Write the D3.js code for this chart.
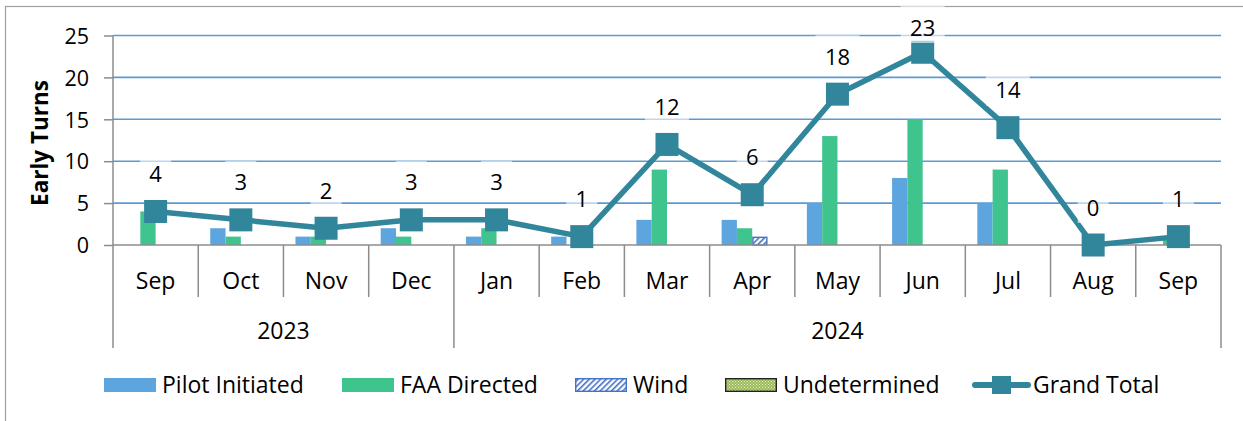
<!DOCTYPE html>
<html><head><meta charset="utf-8">
<script src="https://cdn.jsdelivr.net/npm/d3@7"></script>
<style>html,body{margin:0;padding:0;background:#fff;}svg{display:block;}</style>
</head><body>
<svg id="chart" width="1243" height="421"></svg>
<script>
const months = ["Sep","Oct","Nov","Dec","Jan","Feb","Mar","Apr","May","Jun","Jul","Aug","Sep"];
const yearLabels = ["2023","2024"];
const yearCounts = [4, 9];
const seriesNames = ["Pilot Initiated","FAA Directed","Wind","Undetermined"];
const pilotInitiated = [0,2,1,2,1,1,3,3,5,8,5,0,0];
const faaDirected    = [4,1,1,1,2,0,9,2,13,15,9,0,1];
const wind           = [0,0,0,0,0,0,0,1,0,0,0,0,0];
const undetermined   = [0,0,0,0,0,0,0,0,0,0,0,0,0];
const grandTotal     = [4,3,2,3,3,1,12,6,18,23,14,0,1];
const yTicks = [0,5,10,15,20,25];
const yTitle = "Early Turns";
const totalName = "Grand Total";

(function(){
const FONT = "'Open Sans', sans-serif";
const svg = d3.select("#chart");
const defs = svg.append("defs");

const pw = defs.append("pattern").attr("id","windPat").attr("patternUnits","userSpaceOnUse")
  .attr("width",4).attr("height",4).attr("patternTransform","rotate(45)");
pw.append("rect").attr("width",4).attr("height",4).attr("fill","#fff");
pw.append("rect").attr("width",1.6).attr("height",4).attr("fill","#4472C4");
const pu = defs.append("pattern").attr("id","undPat").attr("patternUnits","userSpaceOnUse")
  .attr("width",3).attr("height",3);
pu.append("rect").attr("width",3).attr("height",3).attr("fill","#9BBB59");
pu.append("rect").attr("width",1).attr("height",1).attr("fill","#e6efd2");
pu.append("rect").attr("x",1.5).attr("y",1.5).attr("width",1).attr("height",1).attr("fill","#e6efd2");

const colors = ["#5DA5DE","#40C48E","url(#windPat)","url(#undPat)"];
const strokes = ["none","none","#4472C4","#222"];
const lineColor = "#31869C";

svg.append("rect").attr("x",5.5).attr("y",6.5).attr("width",1300).attr("height",500)
  .attr("fill","none").attr("stroke","#a0a0a0").attr("stroke-width",1.2);

const pL = 113, pR = 1221, pT = 35.5, pB = 245;
const x = d3.scaleBand().domain(d3.range(months.length)).range([pL,pR]).padding(0);
const y = d3.scaleLinear().domain([0,25]).range([pB, pT]);
const xs = d3.scaleBand().domain(seriesNames).range([0, x.bandwidth()]).paddingInner(0).paddingOuter(0.785);

svg.append("g").selectAll("line").data(yTicks.filter(d=>d>0)).join("line")
  .attr("x1",pL).attr("x2",pR).attr("y1",d=>y(d)).attr("y2",d=>y(d))
  .attr("stroke","#5B9BD5").attr("stroke-width",1.6);

const seriesData = [pilotInitiated, faaDirected, wind, undetermined];
seriesData.forEach((arr, si) => {
  const h = si>=2 ? 0.7 : 0;
  svg.append("g").selectAll("rect").data(arr.map((v,i)=>({v,i})).filter(d=>d.v>0)).join("rect")
    .attr("x", d => x(d.i) + xs(seriesNames[si]) + h)
    .attr("width", xs.bandwidth() - 2*h)
    .attr("y", d => y(d.v) + h)
    .attr("height", d => y(0) - y(d.v) - h)
    .attr("fill", colors[si])
    .attr("stroke", strokes[si]).attr("stroke-width", 2*h);
});

const yAxis = d3.axisLeft(y).tickValues(yTicks).tickSize(9).tickPadding(15);
const gy = svg.append("g").attr("transform",`translate(${pL},0)`).call(yAxis);
gy.select(".domain").attr("stroke","#8c8c8c").attr("stroke-width",1.5).attr("d",`M0,${pT}V${pB}`);
gy.selectAll(".tick line").attr("stroke","#8c8c8c").attr("stroke-width",1.5);
gy.selectAll(".tick text").attr("font-family",FONT).attr("font-size",21.5).attr("fill","#000").attr("dy","0.36em");

svg.append("line").attr("x1",pL).attr("x2",pR).attr("y1",pB).attr("y2",pB)
  .attr("stroke","#8c8c8c").attr("stroke-width",1.5);
const bounds = d3.range(months.length+1);
const yearBounds = [0]; yearCounts.reduce((a,c)=>{yearBounds.push(a+c); return a+c;},0);
svg.append("g").selectAll("line").data(bounds).join("line")
  .attr("x1",d=>pL + d*x.step()).attr("x2",d=>pL + d*x.step())
  .attr("y1",pB).attr("y2",d=> yearBounds.includes(d) ? 348 : 297)
  .attr("stroke","#8c8c8c").attr("stroke-width",1.5);
svg.append("g").selectAll("text").data(months).join("text")
  .attr("x",(d,i)=>x(i)+x.bandwidth()/2).attr("y",288.5)
  .attr("text-anchor","middle").attr("font-family",FONT).attr("font-size",23).text(d=>d);
svg.append("g").selectAll("text").data(yearLabels).join("text")
  .attr("x",(d,i)=> pL + (yearBounds[i]+yearBounds[i+1])/2*x.step()).attr("y",339)
  .attr("text-anchor","middle").attr("font-family",FONT).attr("font-size",23).text(d=>d);

svg.append("text").attr("transform","translate(48,143) rotate(-90)")
  .attr("text-anchor","middle").attr("font-family",FONT).attr("font-weight","bold")
  .attr("font-size",22.5).text(yTitle);

const cx = i => x(i) + x.bandwidth()/2;
svg.append("path").datum(grandTotal)
  .attr("d", d3.line().x((d,i)=>cx(i)).y(d=>y(d)))
  .attr("fill","none").attr("stroke",lineColor).attr("stroke-width",5.5).attr("stroke-linejoin","round");
svg.append("g").selectAll("rect").data(grandTotal).join("rect")
  .attr("x",(d,i)=>cx(i)-11.5).attr("y",d=>y(d)-11.5).attr("width",23).attr("height",23)
  .attr("fill",lineColor);

const lg = svg.append("g");
grandTotal.forEach((v,i)=>{
  const c = Math.max(y(v)-37, 28);
  const w = String(v).length>1 ? 44 : 31;
  lg.append("rect").attr("x",cx(i)-w/2).attr("y",c-22).attr("width",w).attr("height",37)
    .attr("fill","#fff").attr("fill-opacity",0.6);
  lg.append("text").attr("x",cx(i)).attr("y",c+7.5).attr("text-anchor","middle")
    .attr("font-family",FONT).attr("font-size",22).text(v);
});

const legY = 385;
const legX = [104, 342, 575, 725];
seriesNames.forEach((n,si)=>{
  const h = si>=2 ? 0.7 : 0;
  svg.append("rect").attr("x",legX[si]+h).attr("y",legY-7+h)
    .attr("width",52-2*h).attr("height",14-2*h)
    .attr("fill",colors[si]).attr("stroke",strokes[si]).attr("stroke-width",2*h);
  svg.append("text").attr("x",legX[si]+58).attr("y",legY+8)
    .attr("font-family",FONT).attr("font-size",23).text(n);
});
svg.append("line").attr("x1",975).attr("x2",1028).attr("y1",legY).attr("y2",legY)
  .attr("stroke",lineColor).attr("stroke-width",6).attr("stroke-linecap","round");
svg.append("rect").attr("x",992).attr("y",legY-9).attr("width",19).attr("height",18).attr("fill",lineColor);
svg.append("text").attr("x",1033).attr("y",legY+8).attr("font-family",FONT).attr("font-size",23).text(totalName);
})();
</script>
</body></html>
